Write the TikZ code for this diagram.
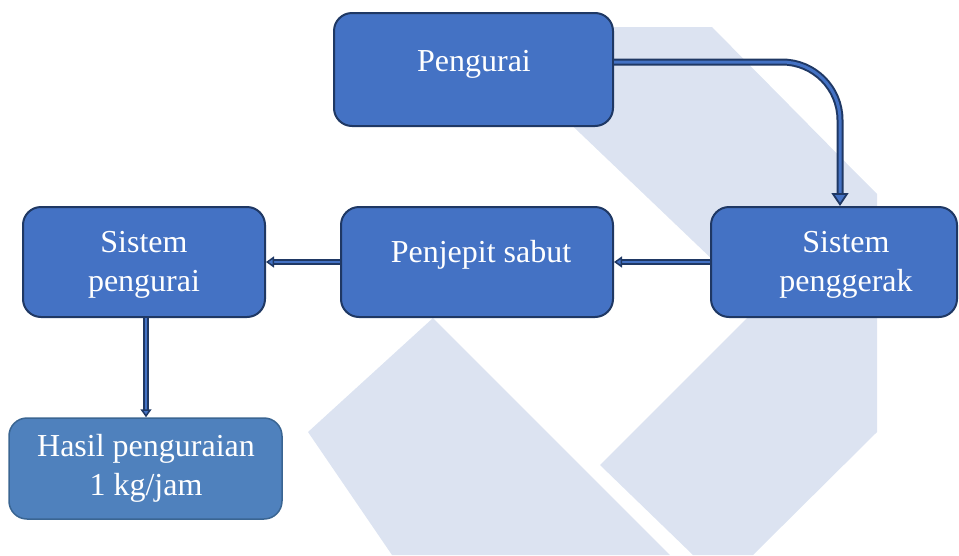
\documentclass[tikz,border=0pt]{standalone}
\usepackage{fontspec}
\setmainfont{Liberation Serif}
\usetikzlibrary{arrows.meta}
\definecolor{boxblue}{HTML}{4472C4}
\definecolor{boxnavy}{HTML}{1F3864}
\definecolor{resblue}{HTML}{4F81BD}
\definecolor{resedge}{HTML}{3A6592}
\definecolor{wmark}{HTML}{DCE3F1}
\tikzset{
  box/.style={draw=boxnavy, line width=2pt, fill=boxblue, rounded corners=18pt, inner sep=0pt},
  resbox/.style={draw=resedge, line width=1.5pt, fill=resblue, rounded corners=18pt, inner sep=0pt},
  lbl/.style={text=white, font=\fontsize{32}{38.5}\selectfont, inner sep=0pt, anchor=base},
  conn/.style={draw=boxnavy, line width=2pt, double=boxblue, double distance=2.4pt,
    -{Triangle[length=8pt, width=11pt, fill=boxblue, color=boxnavy, line width=1.5pt]}},
  bigconn/.style={draw=boxnavy, line width=2pt, double=boxblue, double distance=3pt,
    -{Triangle[length=13pt, width=17pt, fill=boxblue, color=boxnavy, line width=1.8pt]}}
}
\begin{document}
\begin{tikzpicture}[x=1pt, y=-1pt]
\useasboundingbox (0,0) rectangle (959,555);
% watermark
\fill[wmark] (469,27) -- (712,27) -- (865,182) -- (877,194) -- (877,432) -- (753,555)
  -- (693,555) -- (600,465) -- (760,305) -- cycle;
\fill[wmark] (433,318) -- (670,555) -- (392,555) -- (308,432) -- cycle;
% boxes
\node[box, minimum width=279pt, minimum height=113pt] (peng) at (473.5,69.5) {};
\node[box, minimum width=272pt, minimum height=110pt] (jepit) at (477,262) {};
\node[box, minimum width=242pt, minimum height=110pt] (sispeng) at (144,262) {};
\node[box, minimum width=246pt, minimum height=110pt] (gerak) at (834,262) {};
\node[resbox, minimum width=273pt, minimum height=101pt] (hasil) at (145.5,468.5) {};
% texts
\node[lbl] (tpeng) at (474,71) {Pengurai};
\node[lbl] (tjepit) at (481,262) {Penjepit sabut};
\node[lbl, align=center] (tsis) at (144,291) {Sistem\\pengurai};
\node[lbl, align=center] (tger) at (846,291) {Sistem\\penggerak};
\node[lbl, align=center] (thasil) at (146,495) {Hasil penguraian\\1 kg/jam};
% connectors
\draw[bigconn, rounded corners=58pt] ([yshift=7.5pt]peng.east) -| ([xshift=6pt]gerak.north);
\draw[conn] (gerak.west) -- (jepit.east);
\draw[conn] (jepit.west) -- (sispeng.east);
\draw[conn] ([xshift=2pt]sispeng.south) -- ([xshift=2pt]sispeng.south |- hasil.north);
\end{tikzpicture}
\end{document}
